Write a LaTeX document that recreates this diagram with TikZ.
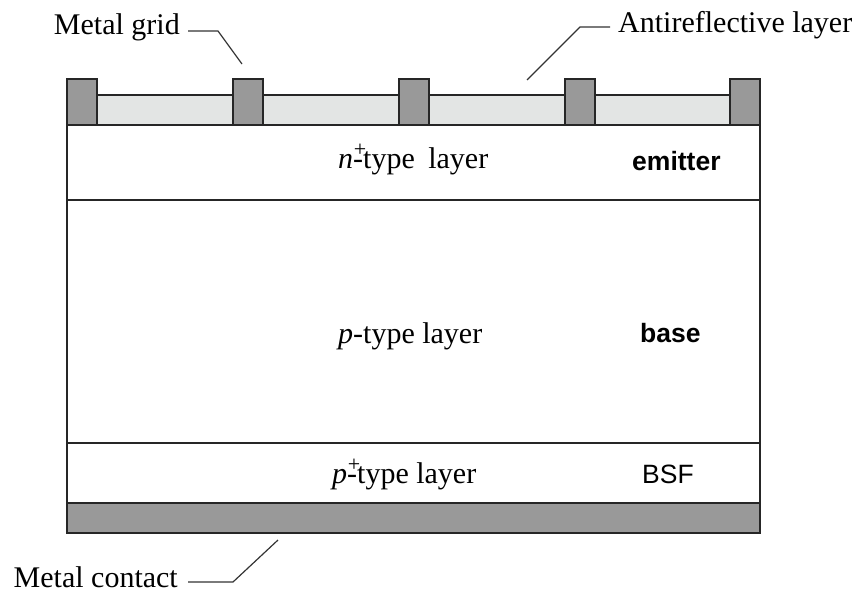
\documentclass[tikz,border=0pt]{standalone}
\usepackage{fontspec}
\setmainfont{Liberation Serif}
\setsansfont{Liberation Sans}
\usetikzlibrary{calc}
\definecolor{metal}{HTML}{999999}
\definecolor{arc}{HTML}{E3E5E4}
\tikzset{
  edge/.style={line width=1.5pt, draw=black!85},
  gridblock/.style={edge, fill=metal},
  lead/.style={line width=1.2pt, draw=black!80},
  serif/.style={inner sep=0pt, font=\fontsize{30}{36}\selectfont},
  sanslab/.style={inner sep=0pt, font=\sffamily\fontsize{26.5}{32}\selectfont},
}
\newcommand{\supplus}{\makebox[0pt][l]{\hspace{0.02em}\raisebox{0.40em}{\fontsize{22}{22}\selectfont +}}}
\begin{document}
\begin{tikzpicture}[x=1pt,y=-1pt]
\useasboundingbox (0,0) rectangle (859,594);
% body
\draw[edge, fill=white] (67,125) rectangle (760,503);
\draw[edge] (67,200) -- (760,200);
\draw[edge] (67,443) -- (760,443);
% antireflective layer
\draw[edge, fill=arc] (67,95) rectangle (760,125);
% metal grid
\foreach \x in {67,233,399,565,730}{
  \draw[gridblock] (\x,79) rectangle ++(30,46);
}
% metal contact
\draw[gridblock] (67,503) rectangle (760,533);
% layer labels
\node[serif, anchor=base west] (nl) at (338,168) {\textit{n}\supplus-type\hspace{0.45em}layer};
\node[sanslab, anchor=base west] (em) at (632,170) {\textbf{emitter}};
\node[serif, anchor=base west] (pl) at (338,343) {\textit{p}-type layer};
\node[sanslab, anchor=base west] (ba) at (640,342) {\textbf{base}};
\node[serif, anchor=base west] (ppl) at (332,483) {\textit{p}\supplus-type layer};
\node[sanslab, anchor=base west] (bsf) at (642,483) {BSF};
% callouts
\node[serif, anchor=base east] (mg) at (180,35) {Metal grid};
\coordinate (mgend) at (242,64);
\draw[lead] ($(mg.base east)+(8,-4)$) -- ++(30,0) -- (mgend);
\node[serif, anchor=base west] (ar) at (618,33) {Antireflective layer};
\coordinate (arend) at (527,80);
\draw[lead] ($(ar.base west)+(-8,-6)$) -- ++(-30,0) -- (arend);
\node[serif, anchor=base east] (mc) at (178,587) {Metal contact};
\coordinate (mcend) at (278,540);
\draw[lead] ($(mc.base east)+(10,-5)$) -- ++(45,0) -- (mcend);
\end{tikzpicture}
\end{document}
